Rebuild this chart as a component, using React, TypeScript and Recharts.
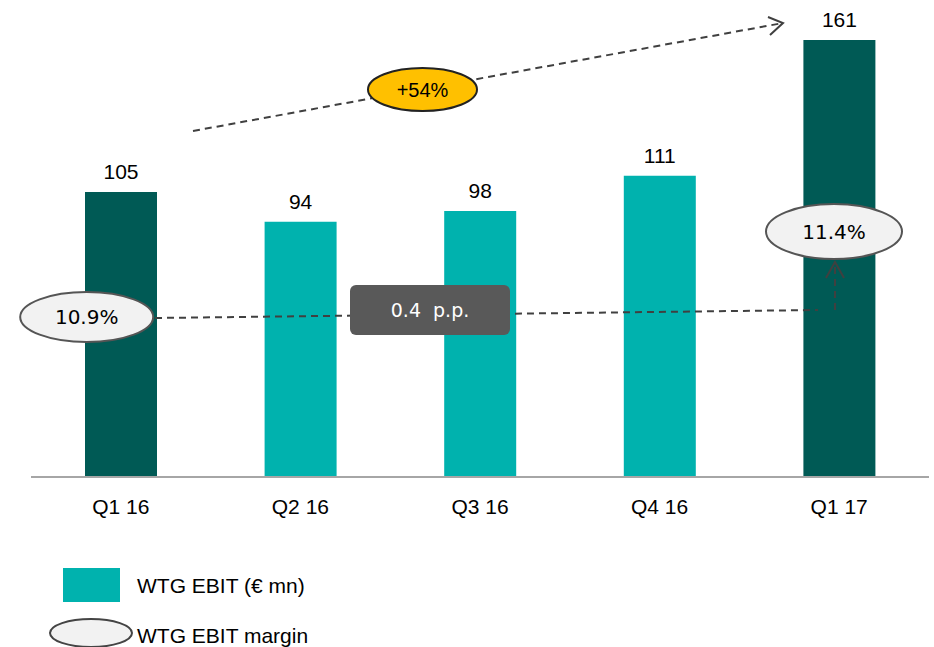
import React from 'react';
import { BarChart, Bar, XAxis, YAxis, Cell, LabelList } from 'recharts';

// Quarterly WTG EBIT in € mn
const quarters = ['Q1 16', 'Q2 16', 'Q3 16', 'Q4 16', 'Q1 17'];
const ebitValues = [105, 94, 98, 111, 161];
const isComparisonQuarter = [true, false, false, false, true];

// Annotation texts
const marginStartLabel = '10.9%';
const marginEndLabel = '11.4%';
const growthLabel = '+54%';
const marginDeltaLabel = '0.4\u00a0\u00a0p.p.';
const legendLabels = ['WTG EBIT (€ mn)', 'WTG EBIT margin'];

const DARK = '#005A55';
const LIGHT = '#00B2AE';
const ARIAL = 'Liberation Sans, Arial, sans-serif';
const TAHOMA = 'DejaVu Sans, Verdana, sans-serif';

const data = quarters.map((q, i) => ({ quarter: q, ebit: ebitValues[i], dark: isComparisonQuarter[i] }));

function Overlay() {
  const dash = '7 5';
  const lineColor = '#404040';
  return (
    <svg width={934} height={647} style={{ position: 'absolute', left: 0, top: 0, pointerEvents: 'none' }}>
      {/* EBIT growth arrow */}
      <line x1={193} y1={131} x2={783} y2={23} stroke={lineColor} strokeWidth={2} strokeDasharray={dash} />
      <polyline points="768,17 783,23 770,35" fill="none" stroke={lineColor} strokeWidth={2} />
      <ellipse cx={422.5} cy={89.5} rx={54.5} ry={21.5} fill="#FFC000" stroke="#222" strokeWidth={2} />
      <text x={422.5} y={89.5} dy="0.36em" textAnchor="middle" fontFamily={ARIAL} fontSize={20} fill="#000">
        {growthLabel}
      </text>

      {/* Margin development */}
      <line x1={155} y1={318} x2={818} y2={310} stroke={lineColor} strokeWidth={2} strokeDasharray={dash} />
      <line x1={835} y1={310} x2={835} y2={264} stroke={lineColor} strokeWidth={2} strokeDasharray={dash} />
      <polyline points="826,278 835,262 844,278" fill="none" stroke={lineColor} strokeWidth={2} />

      <ellipse cx={86.7} cy={317} rx={66.5} ry={25} fill="#F2F2F2" stroke="#555" strokeWidth={2} />
      <text x={86.7} y={317} dy="0.36em" textAnchor="middle" fontFamily={TAHOMA} fontSize={20} fill="#000">
        {marginStartLabel}
      </text>
      <ellipse cx={834} cy={231.5} rx={68} ry={27.5} fill="#F2F2F2" stroke="#555" strokeWidth={2} />
      <text x={834} y={231.5} dy="0.36em" textAnchor="middle" fontFamily={TAHOMA} fontSize={20} fill="#000">
        {marginEndLabel}
      </text>

      <rect x={350} y={285} width={160} height={50} rx={6} fill="#595959" />
      <text x={430} y={310} dy="0.36em" textAnchor="middle" fontFamily={TAHOMA} fontSize={19} fill="#fff">
        {marginDeltaLabel}
      </text>

      {/* Legend */}
      <rect x={63} y={568} width={57} height={34} fill={LIGHT} />
      <text x={137} y={585} dy="0.36em" fontFamily={ARIAL} fontSize={21} fill="#000">
        {legendLabels[0]}
      </text>
      <ellipse cx={91} cy={633} rx={41} ry={14} fill="#F2F2F2" stroke="#444" strokeWidth={2} />
      <text x={137} y={635} dy="0.36em" fontFamily={ARIAL} fontSize={21} fill="#000">
        {legendLabels[1]}
      </text>
    </svg>
  );
}

export default function App() {
  return (
    <div style={{ position: 'absolute', left: 0, top: 0, width: 934, height: 647, background: '#fff' }}>
      <BarChart width={934} height={647} data={data} margin={{ top: 40, right: 5, bottom: 140, left: 31 }}>
        <XAxis
          dataKey="quarter"
          height={30}
          interval={0}
          tickLine={false}
          tickSize={0}
          tickMargin={22}
          axisLine={{ stroke: '#A6A6A6', strokeWidth: 2 }}
          tick={{ fontFamily: ARIAL, fontSize: 21, fill: '#000' }}
        />
        <YAxis hide domain={[0, 161]} />
        <Bar dataKey="ebit" barSize={72} isAnimationActive={false}>
          {data.map((d) => (
            <Cell key={d.quarter} fill={d.dark ? DARK : LIGHT} />
          ))}
          <LabelList dataKey="ebit" position="top" offset={13} fontFamily={ARIAL} fontSize={21} fill="#000" />
        </Bar>
      </BarChart>
      <Overlay />
    </div>
  );
}
